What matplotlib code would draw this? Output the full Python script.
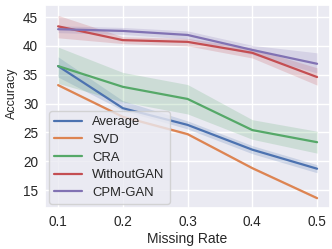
import matplotlib
matplotlib.use("Agg")
import matplotlib.pyplot as plt
import numpy as np
import seaborn as sns

missing_rate = [0.1, 0.2, 0.3, 0.4, 0.5]
labels = ["Average", "SVD", "CRA", "WithoutGAN", "CPM-GAN"]

avg_mean = [36.5, 29.2, 26.3, 22.0, 18.7]
avg_low = [34.6, 28.8, 25.6, 21.3, 18.0]
avg_high = [38.1, 30.5, 27.0, 22.7, 19.4]

svd_mean = [33.2, 27.7, 24.7, 18.8, 13.6]
svd_low = [33.0, 27.5, 24.5, 18.6, 13.4]
svd_high = [33.4, 27.9, 24.9, 19.0, 13.8]

cra_mean = [36.5, 32.9, 30.8, 25.4, 23.3]
cra_low = [33.5, 30.3, 28.2, 23.8, 21.4]
cra_high = [39.8, 35.4, 33.3, 27.2, 25.2]

wog_mean = [43.4, 41.0, 40.7, 38.8, 34.6]
wog_low = [41.4, 40.4, 40.0, 37.9, 33.2]
wog_high = [45.3, 41.6, 41.3, 39.6, 36.2]

cpm_mean = [42.9, 42.6, 41.9, 39.3, 36.9]
cpm_low = [42.3, 42.0, 41.2, 38.5, 35.3]
cpm_high = [43.5, 43.2, 42.6, 40.1, 38.8]

series = [
    (avg_mean, avg_low, avg_high),
    (svd_mean, svd_low, svd_high),
    (cra_mean, cra_low, cra_high),
    (wog_mean, wog_low, wog_high),
    (cpm_mean, cpm_low, cpm_high),
]

sns.set_theme(style="darkgrid")
plt.rcParams['font.family'] = ['Liberation Sans', 'DejaVu Sans']
colors = sns.color_palette("deep")

fig = plt.figure(figsize=(3.32, 2.49), dpi=100)
ax = fig.add_axes([0.136, 0.165, 0.858, 0.815])

for i, (name, (m, lo, hi)) in enumerate(zip(labels, series)):
    ax.plot(missing_rate, m, color=colors[i], lw=1.6, label=name)
    ax.fill_between(missing_rate, lo, hi, color=colors[i], alpha=0.2, lw=0)

ax.set_xticks(missing_rate)
ax.set_xticklabels(["0.1", "0.2", "0.3", "0.4", "0.5"])
ax.set_yticks([15, 20, 25, 30, 35, 40, 45])
ax.set_ylim(11.9, 47.1)
ax.tick_params(labelsize=9.8, length=0, pad=5)
ax.set_xlabel("Missing Rate", fontsize=10, labelpad=2)
ax.set_ylabel("Accuracy", fontsize=9)
ax.yaxis.set_label_coords(-0.095, 0.565)
ax.legend(loc="lower left", fontsize=9.4, labelspacing=0.42,
          handlelength=2.1, borderaxespad=0.3)

plt.savefig("out.png", dpi=100)
